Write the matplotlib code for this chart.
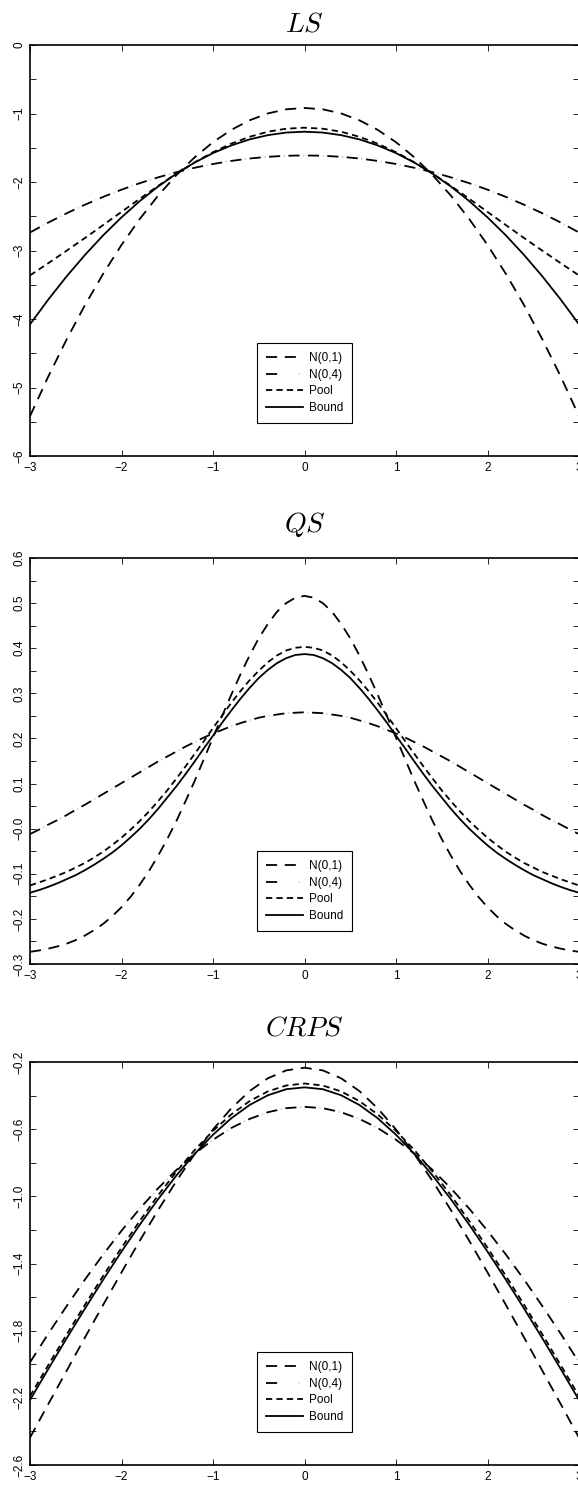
import numpy as np
import matplotlib
matplotlib.use("Agg")
import matplotlib.pyplot as plt
from matplotlib.legend_handler import HandlerTuple

# observation grid: step 0.2 for LS and CRPS, step 0.1 for QS
x_vals = np.round(np.arange(-3.0, 3.0001, 0.2), 1)
x_fine = np.round(np.arange(-3.0, 3.0001, 0.1), 1)

# LS panel
ls_n01 = [-5.419, -4.839, -4.299, -3.799, -3.339, -2.919, -2.539, -2.199, -1.899, -1.639, -1.419,
          -1.239, -1.099, -0.999, -0.939, -0.919, -0.939, -0.999, -1.099, -1.239, -1.419,
          -1.639, -1.899, -2.199, -2.539, -2.919, -3.339, -3.799, -4.299, -4.839, -5.419]
ls_n04 = [-2.737, -2.592, -2.457, -2.332, -2.217, -2.112, -2.017, -1.932, -1.857, -1.792, -1.737,
          -1.692, -1.657, -1.632, -1.617, -1.612, -1.617, -1.632, -1.657, -1.692, -1.737,
          -1.792, -1.857, -1.932, -2.017, -2.112, -2.217, -2.332, -2.457, -2.592, -2.737]
ls_pool = [-3.364, -3.185, -3.003, -2.818, -2.628, -2.436, -2.244, -2.057, -1.878, -1.713, -1.565,
           -1.440, -1.340, -1.266, -1.222, -1.207, -1.222, -1.266, -1.340, -1.440, -1.565,
           -1.713, -1.878, -2.057, -2.244, -2.436, -2.628, -2.818, -3.003, -3.185, -3.364]
ls_bound = [-4.078, -3.716, -3.378, -3.066, -2.778, -2.516, -2.278, -2.066, -1.878, -1.716, -1.578,
            -1.466, -1.378, -1.316, -1.278, -1.266, -1.278, -1.316, -1.378, -1.466, -1.578,
            -1.716, -1.878, -2.066, -2.278, -2.516, -2.778, -3.066, -3.378, -3.716, -4.078]

# QS panel (finer grid)
qs_n01 = [-0.273, -0.270, -0.266, -0.261, -0.255, -0.247, -0.237, -0.225, -0.211, -0.194,
          -0.174, -0.151, -0.124, -0.094, -0.060, -0.023, 0.017, 0.061, 0.106, 0.154,
          0.202, 0.250, 0.297, 0.342, 0.384, 0.422, 0.454, 0.481, 0.500, 0.512,
          0.516,
          0.512, 0.500, 0.481, 0.454, 0.422, 0.384, 0.342, 0.297, 0.250, 0.202,
          0.154, 0.106, 0.061, 0.017, -0.023, -0.060, -0.094, -0.124, -0.151, -0.174,
          -0.194, -0.211, -0.225, -0.237, -0.247, -0.255, -0.261, -0.266, -0.270, -0.273]
qs_n04 = [-0.012, -0.002, 0.009, 0.019, 0.030, 0.042, 0.053, 0.065, 0.077, 0.089,
          0.101, 0.113, 0.125, 0.137, 0.149, 0.160, 0.171, 0.182, 0.192, 0.202,
          0.211, 0.219, 0.227, 0.234, 0.240, 0.246, 0.250, 0.253, 0.256, 0.257,
          0.258,
          0.257, 0.256, 0.253, 0.250, 0.246, 0.240, 0.234, 0.227, 0.219, 0.211,
          0.202, 0.192, 0.182, 0.171, 0.160, 0.149, 0.137, 0.125, 0.113, 0.101,
          0.089, 0.077, 0.065, 0.053, 0.042, 0.030, 0.019, 0.009, -0.002, -0.012]
qs_pool = [-0.126, -0.119, -0.112, -0.104, -0.096, -0.086, -0.076, -0.064, -0.051, -0.036,
           -0.020, -0.002, 0.017, 0.038, 0.061, 0.085, 0.111, 0.138, 0.166, 0.194,
           0.223, 0.251, 0.279, 0.305, 0.329, 0.350, 0.369, 0.384, 0.395, 0.401,
           0.403,
           0.401, 0.395, 0.384, 0.369, 0.350, 0.329, 0.305, 0.279, 0.251, 0.223,
           0.194, 0.166, 0.138, 0.111, 0.085, 0.061, 0.038, 0.017, -0.002, -0.020,
           -0.036, -0.051, -0.064, -0.076, -0.086, -0.096, -0.104, -0.112, -0.119, -0.126]
qs_bound = [-0.142, -0.136, -0.129, -0.121, -0.112, -0.103, -0.092, -0.080, -0.067, -0.053,
            -0.037, -0.019, 0.000, 0.021, 0.044, 0.069, 0.094, 0.121, 0.149, 0.178,
            0.206, 0.235, 0.262, 0.288, 0.312, 0.334, 0.352, 0.367, 0.378, 0.385,
            0.387,
            0.385, 0.378, 0.367, 0.352, 0.334, 0.312, 0.288, 0.262, 0.235, 0.206,
            0.178, 0.149, 0.121, 0.094, 0.069, 0.044, 0.021, 0.000, -0.019, -0.037,
            -0.053, -0.067, -0.080, -0.092, -0.103, -0.112, -0.121, -0.129, -0.136, -0.142]

# CRPS panel
crps_n01 = [-2.437, -2.237, -2.039, -1.841, -1.646, -1.453, -1.264, -1.082, -0.909, -0.748, -0.602,
            -0.476, -0.373, -0.297, -0.250, -0.234, -0.250, -0.297, -0.373, -0.476, -0.602,
            -0.748, -0.909, -1.082, -1.264, -1.453, -1.646, -1.841, -2.039, -2.237, -2.437]
crps_n04 = [-1.989, -1.818, -1.654, -1.496, -1.346, -1.205, -1.073, -0.952, -0.843, -0.746, -0.663,
            -0.593, -0.539, -0.499, -0.475, -0.467, -0.475, -0.499, -0.539, -0.593, -0.663,
            -0.746, -0.843, -0.952, -1.073, -1.205, -1.346, -1.496, -1.654, -1.818, -1.989]
crps_pool = [-2.190, -2.005, -1.823, -1.646, -1.473, -1.306, -1.146, -0.994, -0.853, -0.724, -0.610,
             -0.512, -0.433, -0.375, -0.340, -0.328, -0.340, -0.375, -0.433, -0.512, -0.610,
             -0.724, -0.853, -0.994, -1.146, -1.306, -1.473, -1.646, -1.823, -2.005, -2.190]
crps_bound = [-2.213, -2.028, -1.846, -1.669, -1.496, -1.329, -1.169, -1.017, -0.876, -0.747, -0.633,
              -0.535, -0.456, -0.398, -0.362, -0.351, -0.362, -0.398, -0.456, -0.535, -0.633,
              -0.747, -0.876, -1.017, -1.169, -1.329, -1.496, -1.669, -1.846, -2.028, -2.213]

x_ticks = [-3, -2, -1, 0, 1, 2, 3]
x_ticklabels = ["\u22123", "\u22122", "\u22121", "0", "1", "2", "3"]

ls_ticks = [0, -1, -2, -3, -4, -5, -6]
ls_ticklabels = ["0", "\u22121", "\u22122", "\u22123", "\u22124", "\u22125", "\u22126"]
qs_ticks = [0.6, 0.5, 0.4, 0.3, 0.2, 0.1, 0.0, -0.1, -0.2, -0.3]
qs_ticklabels = ["0.6", "0.5", "0.4", "0.3", "0.2", "0.1", "\u22120.0", "\u22120.1", "\u22120.2", "\u22120.3"]
crps_ticks = [-0.2, -0.6, -1.0, -1.4, -1.8, -2.2, -2.6]
crps_ticklabels = ["\u22120.2", "\u22120.6", "\u22121.0", "\u22121.4", "\u22121.8", "\u22122.2", "\u22122.6"]

labels = ["N(0,1)", "N(0,4)", "Pool", "Bound"]

plt.rcParams["font.family"] = ["Liberation Sans", "DejaVu Sans"]
plt.rcParams["mathtext.fontset"] = "cm"
plt.rcParams["lines.scale_dashes"] = False

W, H = 578, 1485
fig = plt.figure(figsize=(W / 100, H / 100), dpi=100)

# panel boxes in pixels: (top, bottom)
boxes = [(45, 456), (558, 964), (1062, 1465)]
left_px, right_px = 30, 579

panels = [
    ("$LS$", x_vals, [ls_n01, ls_n04, ls_pool, ls_bound], (-6, 0), ls_ticks, ls_ticklabels, 0.5, 9.5),
    ("$QS$", x_fine, [qs_n01, qs_n04, qs_pool, qs_bound], (-0.3, 0.6), qs_ticks, qs_ticklabels, 0.05, 19),
    ("$CRPS$", x_vals, [crps_n01, crps_n04, crps_pool, crps_bound], (-2.6, -0.2), crps_ticks, crps_ticklabels, 0.2, 19),
]

lw = 1.3
for (top, bot), (title, xs, ys, ylim, yt, ytl, minor_step, pad) in zip(boxes, panels):
    ax = fig.add_axes([left_px / W, 1 - bot / H, (right_px - left_px) / W, (bot - top) / H])

    h1, = ax.plot(xs, ys[0], color="black", lw=lw, linestyle=(0, (8, 5.5)))
    h2a, = ax.plot(xs, ys[1], color="black", lw=lw, linestyle=(0, (8, 6)))
    h2b, = ax.plot(xs, ys[1], color="#d0d0d0", lw=lw, linestyle=(3.5, (1, 13)))
    h3, = ax.plot(xs, ys[2], color="black", lw=lw, linestyle=(0, (4.5, 3)))
    h4, = ax.plot(xs, ys[3], color="black", lw=lw, linestyle="-")

    ax.set_xlim(-3, 3)
    ax.set_ylim(*ylim)
    ax.set_xticks(x_ticks)
    ax.set_xticklabels(x_ticklabels)
    ax.set_yticks(yt)
    ax.set_yticklabels(ytl, rotation=90, va="center")
    ax.set_yticks(np.arange(ylim[0], ylim[1] + 1e-9, minor_step), minor=True)
    ax.tick_params(which="both", direction="in", top=True, right=True, length=4,
                   width=0.6, labelsize=8.5)
    ax.tick_params(axis="y", pad=3)
    ax.tick_params(axis="x", pad=4)
    for s in ax.spines.values():
        s.set_linewidth(1.2)

    ax.set_title(title, fontsize=20, pad=pad)

    leg = ax.legend([h1, (h2a, h2b), h3, h4], labels,
                    handler_map={tuple: HandlerTuple(ndivide=None, pad=0)},
                    loc="lower center", bbox_to_anchor=(0.5, 33 / (bot - top)),
                    fontsize=8.5, frameon=True, fancybox=False, framealpha=1,
                    edgecolor="black", handlelength=3.1, handletextpad=0.5,
                    labelspacing=0.4, borderpad=0.75, borderaxespad=0)
    leg.get_frame().set_linewidth(0.8)

fig.savefig("out.png", dpi=100)
